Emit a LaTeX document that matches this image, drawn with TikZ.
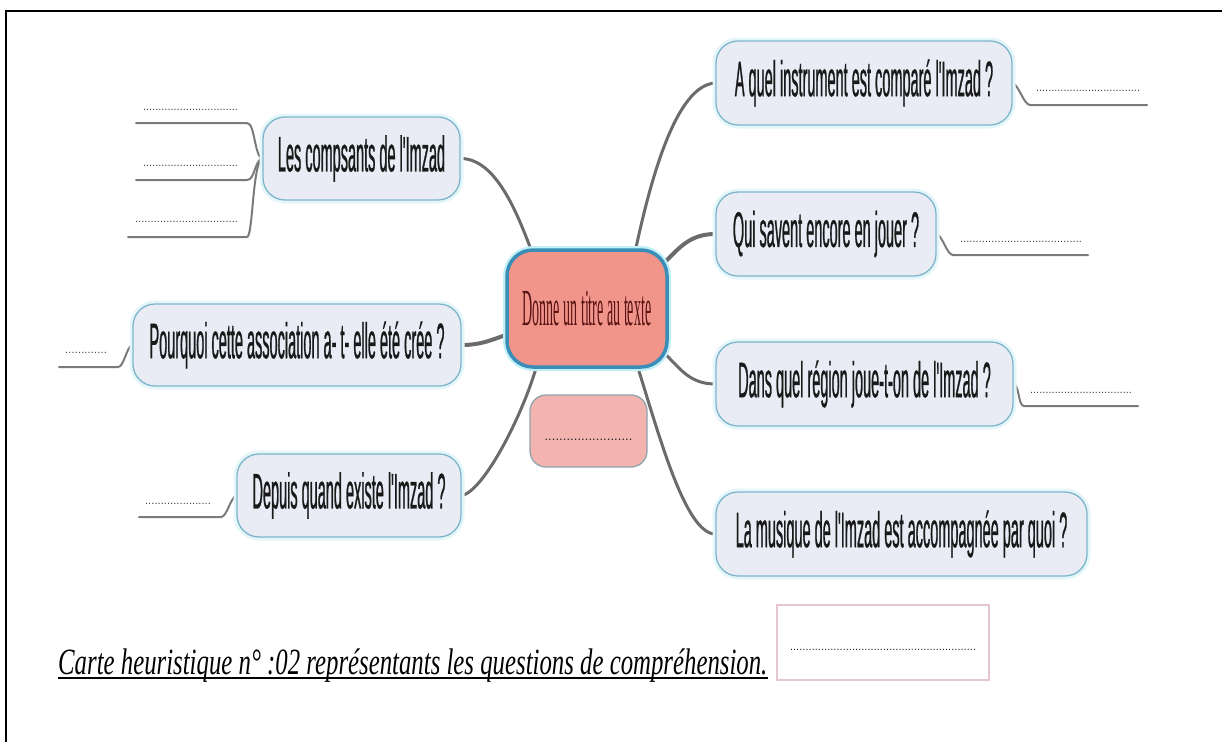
\documentclass[tikz,border=0pt]{standalone}
\usepackage{fontspec}
\usetikzlibrary{calc}
\newfontfamily\qfont[FakeStretch=0.29,FakeBold=0.5]{Liberation Sans}
\newfontfamily\cfont[FakeStretch=0.27]{Liberation Serif}
\newfontfamily\capfont[FakeStretch=0.67]{Liberation Serif}
\newfontfamily\dfont{Liberation Sans}
\newcommand\dotrow[1]{\hbox to #1{\xleaders\hbox{.}\hfill}}
\definecolor{qfill}{HTML}{E9ECF4}
\definecolor{qborder}{HTML}{7DB6CB}
\definecolor{qhalo}{HTML}{E4F6FA}
\definecolor{cfill}{HTML}{F1948A}
\definecolor{cborder}{HTML}{3A8DB6}
\definecolor{chalo}{HTML}{BFEFF7}
\definecolor{sfill}{HTML}{F3B3AE}
\definecolor{sborder}{HTML}{8FA3AE}
\definecolor{conn}{HTML}{6B6B6B}
\definecolor{ctext}{HTML}{5A1414}
\definecolor{capborder}{HTML}{E6C6D2}
\pgfdeclarelayer{bg}
\pgfsetlayers{bg,main}
\tikzset{
  qbox/.style={draw=qborder, line width=1.3pt, fill=qfill, rounded corners=22pt,
    inner sep=0pt, font=\qfont\fontsize{50}{50}\selectfont, text=black!90,
    preaction={draw=qhalo, line width=7pt}},
  cbox/.style={draw=cborder, line width=3.5pt, fill=cfill, rounded corners=26pt,
    inner sep=0pt, font=\cfont\fontsize{52}{52}\selectfont, text=ctext,
    preaction={draw=chalo, line width=8pt}},
  sbox/.style={draw=sborder, line width=1.3pt, fill=sfill, rounded corners=16pt,
    inner sep=0pt, font=\dfont\fontsize{13}{13}\selectfont, text=black!85},
  capbox/.style={draw=capborder, line width=1.3pt, fill=white, inner sep=0pt,
    font=\dfont\fontsize{11}{11}\selectfont, text=black!85},
  dotsty/.style={inner sep=0pt, font=\dfont\fontsize{11}{11}\selectfont, text=black!75},
  mainconn/.style={draw=conn, line width=3pt, line cap=round},
  ansline/.style={draw=conn!90, line width=2pt, line cap=round},
  frame/.style={draw=black, line width=1.6pt}
}
\begin{document}
\begin{tikzpicture}[x=1pt,y=-1pt]
\useasboundingbox (0,0) rectangle (1222,742);
\draw[frame] (6,742) -- (6,11) -- (1222,11);

% nodes
\node[cbox, minimum width=160pt, minimum height=117pt] (ctr) at (587,308.5) {Donne un titre au texte};
\node[sbox, minimum width=117pt, minimum height=72pt] (sub) at (588.5,431) {\raisebox{-9pt}[0pt][0pt]{\dotrow{88pt}}};
\node[qbox, minimum width=197pt, minimum height=83pt] (comp) at (361.5,158.5) {Les compsants de l'Imzad};
\node[qbox, minimum width=328pt, minimum height=82pt] (pourq) at (297,345) {Pourquoi cette association a- t- elle été crée ?};
\node[qbox, minimum width=224pt, minimum height=83pt] (depuis) at (349,495.5) {Depuis quand existe l'Imzad ?};
\node[qbox, minimum width=296pt, minimum height=84pt] (aquel) at (864,83) {A quel instrument est comparé l'Imzad ?};
\node[qbox, minimum width=220pt, minimum height=84pt] (qui) at (826,234) {Qui savent encore en jouer ?};
\node[qbox, minimum width=297pt, minimum height=84pt] (dans) at (864.5,384) {Dans quel région joue-t-on de l'Imzad ?};
\node[qbox, minimum width=371pt, minimum height=84pt] (musique) at (901.5,534) {La musique de l'Imzad est accompagnée par quoi ?};

% answer dots
\node[dotsty] (d1) at (1088,91) {\dotrow{104pt}};
\node[dotsty] (d2) at (1021,242) {\dotrow{122pt}};
\node[dotsty] (d3) at (1081,393) {\dotrow{102pt}};
\node[dotsty] (d4) at (190.5,110) {\dotrow{95pt}};
\node[dotsty] (d5) at (190.5,166) {\dotrow{95pt}};
\node[dotsty] (d6) at (186.5,222) {\dotrow{103pt}};
\node[dotsty] (d7) at (86,353) {\dotrow{42pt}};
\node[dotsty] (d8) at (178,504) {\dotrow{66pt}};

% answer line end points
\coordinate (a1) at (1030,105); \coordinate (a1e) at (1147,105);
\coordinate (a2) at (953,255); \coordinate (a2e) at (1088,255);
\coordinate (a3) at (1024,406); \coordinate (a3e) at (1138,406);
\coordinate (b1) at (247,123); \coordinate (b1e) at (136,123);
\coordinate (b2) at (247,180); \coordinate (b2e) at (136,180);
\coordinate (b3) at (247,237); \coordinate (b3e) at (128,237);
\coordinate (p1) at (118,367); \coordinate (p1e) at (59,367);
\coordinate (q1) at (221,517); \coordinate (q1e) at (139,517);

% caption
\node[inner sep=0pt, anchor=base west, font=\capfont\itshape\fontsize{37}{37}\selectfont] (cap) at (58,674)
  {Carte heuristique n° :02 représentants les questions de compréhension.};
\draw[line width=1.8pt] ($(cap.base west)+(0,4)$) -- ($(cap.base east)+(0,4)$);
\node[capbox, minimum width=212pt, minimum height=75pt] (cbx) at (883,642.5) {\raisebox{-8pt}[0pt][0pt]{\dotrow{186pt}}};

\begin{pgfonlayer}{bg}
% main connectors
\draw[mainconn] (comp.east) .. controls +(35,0) and +(-15,-40) .. ($(ctr.north)+(-55,4)$);
\draw[mainconn] (aquel.west) .. controls +(-40,2) and +(15,-70) .. ($(ctr.north)+(48,4)$);
\draw[mainconn, line width=4pt] (qui.west) .. controls +(-25,0) and +(15,-15) .. ($(ctr.north east)+(-4,14)$);
\draw[mainconn, line width=4pt] (pourq.east) .. controls +(20,0) and +(-15,5) .. ($(ctr.west)+(2,26)$);
\draw[mainconn] (dans.west) .. controls +(-25,0) and +(15,15) .. ($(ctr.east)+(-3,46)$);
\draw[mainconn] (depuis.east) .. controls +(22,-4) and +(-14,50) .. ($(ctr.south)+(-50,-4)$);
\draw[mainconn] (musique.west) .. controls +(-30,0) and +(22,70) .. ($(ctr.south)+(50,-4)$);
% answer lines
\draw[ansline] (aquel.east) .. controls +(6,2) and +(-6,0) .. (a1) -- (a1e);
\draw[ansline] (qui.east) .. controls +(6,2) and +(-6,0) .. (a2) -- (a2e);
\draw[ansline] (dans.east) .. controls +(6,2) and +(-6,0) .. (a3) -- (a3e);
\draw[ansline] (comp.west) .. controls +(-8,-2) and +(8,0) .. (b1) -- (b1e);
\draw[ansline] (comp.west) .. controls +(-8,2) and +(8,0) .. (b2) -- (b2e);
\draw[ansline] (comp.west) .. controls +(-10,4) and +(6,0) .. (b3) -- (b3e);
\draw[ansline] (pourq.west) .. controls +(-6,2) and +(6,0) .. (p1) -- (p1e);
\draw[ansline] (depuis.west) .. controls +(-6,2) and +(6,0) .. (q1) -- (q1e);
\end{pgfonlayer}
\end{tikzpicture}
\end{document}
